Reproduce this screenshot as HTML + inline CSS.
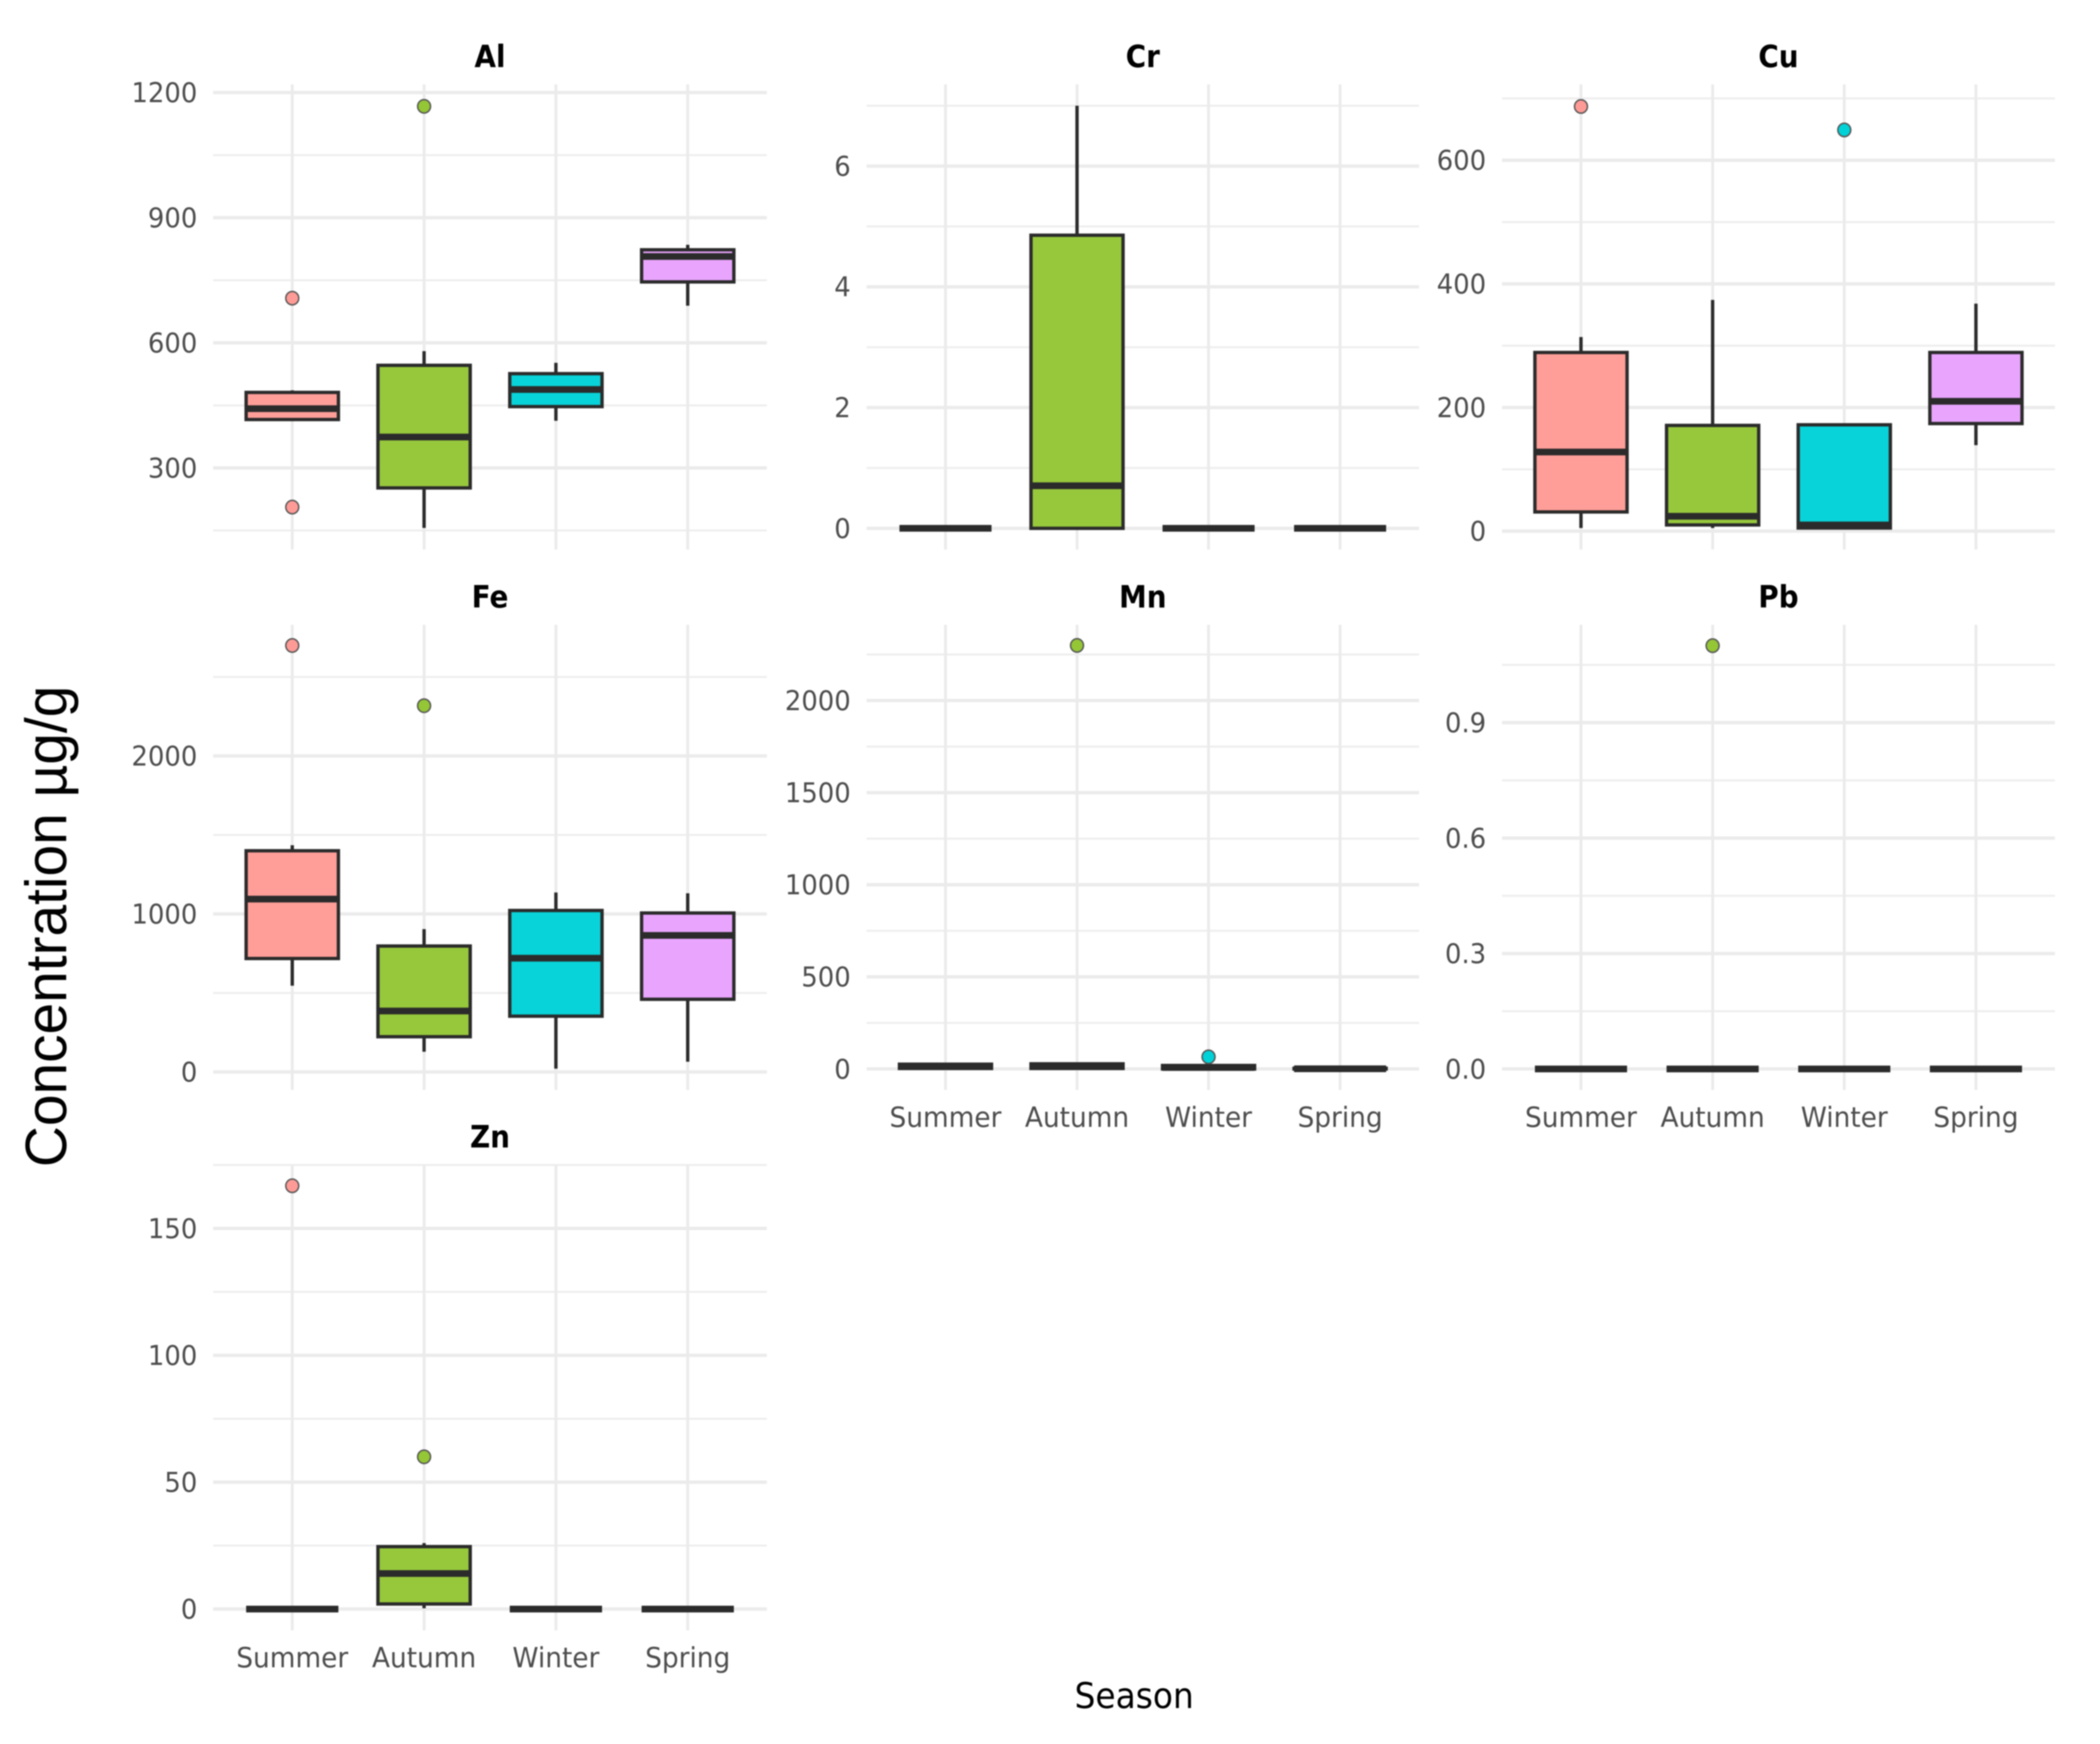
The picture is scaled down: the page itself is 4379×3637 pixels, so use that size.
<!DOCTYPE html>
<html lang="en">
<head>
<meta charset="utf-8">
<title>Concentration by season</title>
<style>
html,body{margin:0;padding:0;background:#fff;}
svg{display:block;filter:blur(1.2px);}
</style>
</head>
<body>
<svg id="chart" xmlns="http://www.w3.org/2000/svg" width="4379" height="3637" viewBox="0 0 4379 3637">
  <rect x="0" y="0" width="4379" height="3637" fill="#ffffff"/>
  <g id="panels"></g>
  <text transform="translate(138,2434) rotate(-90)" font-family="'Liberation Sans',sans-serif" font-size="122" textLength="1004" lengthAdjust="spacingAndGlyphs" fill="#000000">Concentration µg/g</text>
  <text transform="translate(2365,3562) scale(1,1.08)" text-anchor="middle" font-family="'DejaVu Sans',sans-serif" font-size="68.5" fill="#000000">Season</text>
</svg>
<script>
const seasons = ['Summer', 'Autumn', 'Winter', 'Spring'];
const seasonColors = ['#ff9b96', '#94c636', '#00d2d7', '#e8a2fe'];

const alTicks = [300, 600, 900, 1200];
const alTickLabels = ['300', '600', '900', '1200'];
const alMinor = [150, 450, 750, 1050];
const alLower = [412, 156, 413, 689];
const alQ1 = [416, 252, 447, 746];
const alMedian = [442, 374, 488, 807];
const alQ3 = [481, 546, 526, 823];
const alUpper = [486, 580, 552, 835];
const alOutliers = [[707, 206], [1167], [], []];

const crTicks = [0, 2, 4, 6];
const crTickLabels = ['0', '2', '4', '6'];
const crMinor = [1, 3, 5, 7];
const crLower = [0, 0, 0, 0];
const crQ1 = [0, 0, 0, 0];
const crMedian = [0, 0.705, 0, 0];
const crQ3 = [0, 4.855, 0, 0];
const crUpper = [0, 7, 0, 0];
const crOutliers = [[], [], [], []];

const cuTicks = [0, 200, 400, 600];
const cuTickLabels = ['0', '200', '400', '600'];
const cuMinor = [100, 300, 500, 700];
const cuLower = [5, 5, 5, 139];
const cuQ1 = [31, 10, 5, 174];
const cuMedian = [128, 24, 10, 210];
const cuQ3 = [289, 171, 172, 289];
const cuUpper = [314, 374, 172, 368];
const cuOutliers = [[687], [], [649], []];

const feTicks = [0, 1000, 2000];
const feTickLabels = ['0', '1000', '2000'];
const feMinor = [500, 1500, 2500];
const feLower = [546, 128, 21, 65];
const feQ1 = [718, 223, 353, 460];
const feMedian = [1094, 386, 720, 864];
const feQ3 = [1400, 797, 1022, 1006];
const feUpper = [1435, 904, 1136, 1131];
const feOutliers = [[2699], [2318], [], []];

const mnTicks = [0, 500, 1000, 1500, 2000];
const mnTickLabels = ['0', '500', '1000', '1500', '2000'];
const mnMinor = [250, 750, 1250, 1750, 2250];
const mnLower = [3, 3, 0, 0];
const mnQ1 = [3, 3, 0, 0];
const mnMedian = [13, 15, 8, 1];
const mnQ3 = [26, 28, 19, 4];
const mnUpper = [26, 28, 19, 4];
const mnOutliers = [[], [2299], [66], []];

const pbTicks = [0, 0.3, 0.6, 0.9];
const pbTickLabels = ['0.0', '0.3', '0.6', '0.9'];
const pbMinor = [0.15, 0.45, 0.75, 1.05];
const pbLower = [0, 0, 0, 0];
const pbQ1 = [0, 0, 0, 0];
const pbMedian = [0, 0, 0, 0];
const pbQ3 = [0, 0, 0, 0];
const pbUpper = [0, 0, 0, 0];
const pbOutliers = [[], [1.1], [], []];

const znTicks = [0, 50, 100, 150];
const znTickLabels = ['0', '50', '100', '150'];
const znMinor = [25, 75, 125, 175];
const znLower = [0, 0.3, 0, 0];
const znQ1 = [0, 2, 0, 0];
const znMedian = [0, 14, 0, 0];
const znQ3 = [0, 24.6, 0, 0];
const znUpper = [0, 26, 0, 0];
const znOutliers = [[166.8], [60], [], []];

const SVG_NS = 'http://www.w3.org/2000/svg';
const root = document.getElementById('panels');

function make(parent, tag, attrs) {
  const node = document.createElementNS(SVG_NS, tag);
  for (const key in attrs) node.setAttribute(key, attrs[key]);
  parent.appendChild(node);
  return node;
}

function drawPanel(p) {
  const group = make(root, 'g', {});
  
  

  const yScale = function (v) { return p.zeroY - v * p.pxPerUnit; };
  const band = (p.right - p.left) / 4.2;
  const xScale = function (i) { return p.left + band * (0.6 + i); };
  const boxWidth = band * 0.7;

  p.minor.forEach(function (v) {
    const line = make(group, 'line', { x1: p.left, x2: p.right, y1: yScale(v), y2: yScale(v), stroke: '#ededed', 'stroke-width': 4 });
    
    
  });
  p.ticks.forEach(function (v, i) {
    const line = make(group, 'line', { x1: p.left, x2: p.right, y1: yScale(v), y2: yScale(v), stroke: '#ebebeb', 'stroke-width': 7 });
    
    
    const label = make(group, 'text', { transform: 'translate(' + (p.left - 33) + ',' + (yScale(v) + 20) + ') scale(1,1.05)', 'text-anchor': 'end', 'font-family': "'DejaVu Sans',sans-serif", 'font-size': 54, fill: '#4d4d4d' });
    label.textContent = p.tickLabels[i];
    
    
  });
  seasons.forEach(function (s, i) {
    const line = make(group, 'line', { x1: xScale(i), x2: xScale(i), y1: p.top, y2: p.bottom, stroke: '#ebebeb', 'stroke-width': 6 });
    
    
  });

  const title = make(group, 'text', { transform: 'translate(' + (p.left + p.right) / 2 + ',' + p.titleY + ') scale(1,1.1)', 'text-anchor': 'middle', 'font-family': "'DejaVu Sans',sans-serif", 'font-weight': 700, 'font-size': 58, fill: '#000000' });
  title.textContent = p.title;
  
  

  if (p.labelY) {
    seasons.forEach(function (s, i) {
      const label = make(group, 'text', { transform: 'translate(' + xScale(i) + ',' + p.labelY + ') scale(1,1.05)', 'text-anchor': 'middle', 'font-family': "'DejaVu Sans',sans-serif", 'font-size': 55, fill: '#4d4d4d' });
      label.textContent = s;
      
      
    });
  }

  seasons.forEach(function (s, i) {
    const cx = xScale(i);
    const x0 = cx - boxWidth / 2;
    const x1 = cx + boxWidth / 2;
    const yQ1 = yScale(p.q1[i]);
    const yQ3 = yScale(p.q3[i]);
    const yMed = yScale(p.median[i]);

    const box = make(group, 'g', {});
    
    

    const whiskerUp = make(box, 'line', { x1: cx, x2: cx, y1: yQ3, y2: yScale(p.upper[i]), stroke: '#2b2b2b', 'stroke-width': 7 });
    
    
    const whiskerDown = make(box, 'line', { x1: cx, x2: cx, y1: yQ1, y2: yScale(p.lower[i]), stroke: '#2b2b2b', 'stroke-width': 7 });
    
    

    if (yQ1 - yQ3 > 0.5) {
      const rect = make(box, 'rect', { x: x0, y: yQ3, width: boxWidth, height: yQ1 - yQ3, fill: seasonColors[i], 'fill-opacity': 0.97, stroke: '#2b2b2b', 'stroke-width': 7 });
      
      
    }
    const median = make(box, 'line', { x1: x0, x2: x1, y1: yMed, y2: yMed, stroke: '#2b2b2b', 'stroke-width': 14 });
    
    

    p.outliers[i].forEach(function (v) {
      const dot = make(box, 'ellipse', { cx: cx, cy: yScale(v), rx: 13.5, ry: 14, fill: seasonColors[i], stroke: '#555555', 'stroke-width': 3 });
      
      
    });
  });
}

drawPanel({ title: 'Al', left: 444.5, right: 1599, top: 176, bottom: 1146, titleY: 140, zeroY: 1236.7, pxPerUnit: 0.8697, ticks: alTicks, tickLabels: alTickLabels, minor: alMinor, lower: alLower, q1: alQ1, median: alMedian, q3: alQ3, upper: alUpper, outliers: alOutliers });
drawPanel({ title: 'Cr', left: 1807, right: 2959, top: 176, bottom: 1146, titleY: 140, zeroY: 1101.8, pxPerUnit: 125.9, ticks: crTicks, tickLabels: crTickLabels, minor: crMinor, lower: crLower, q1: crQ1, median: crMedian, q3: crQ3, upper: crUpper, outliers: crOutliers });
drawPanel({ title: 'Cu', left: 3132, right: 4285, top: 176, bottom: 1146, titleY: 140, zeroY: 1107.6, pxPerUnit: 1.289, ticks: cuTicks, tickLabels: cuTickLabels, minor: cuMinor, lower: cuLower, q1: cuQ1, median: cuMedian, q3: cuQ3, upper: cuUpper, outliers: cuOutliers });
drawPanel({ title: 'Fe', left: 444.5, right: 1599, top: 1303, bottom: 2273, titleY: 1267, zeroY: 2235.5, pxPerUnit: 0.3295, ticks: feTicks, tickLabels: feTickLabels, minor: feMinor, lower: feLower, q1: feQ1, median: feMedian, q3: feQ3, upper: feUpper, outliers: feOutliers });
drawPanel({ title: 'Mn', left: 1807, right: 2959, top: 1303, bottom: 2273, titleY: 1267, labelY: 2350, zeroY: 2229.3, pxPerUnit: 0.3842, ticks: mnTicks, tickLabels: mnTickLabels, minor: mnMinor, lower: mnLower, q1: mnQ1, median: mnMedian, q3: mnQ3, upper: mnUpper, outliers: mnOutliers });
drawPanel({ title: 'Pb', left: 3132, right: 4285, top: 1303, bottom: 2273, titleY: 1267, labelY: 2350, zeroY: 2229.3, pxPerUnit: 802.5, ticks: pbTicks, tickLabels: pbTickLabels, minor: pbMinor, lower: pbLower, q1: pbQ1, median: pbMedian, q3: pbQ3, upper: pbUpper, outliers: pbOutliers });
drawPanel({ title: 'Zn', left: 444.5, right: 1599, top: 2430, bottom: 3400, titleY: 2393, labelY: 3477, zeroY: 3355.6, pxPerUnit: 5.292, ticks: znTicks, tickLabels: znTickLabels, minor: znMinor, lower: znLower, q1: znQ1, median: znMedian, q3: znQ3, upper: znUpper, outliers: znOutliers });
</script>
</body>
</html>
